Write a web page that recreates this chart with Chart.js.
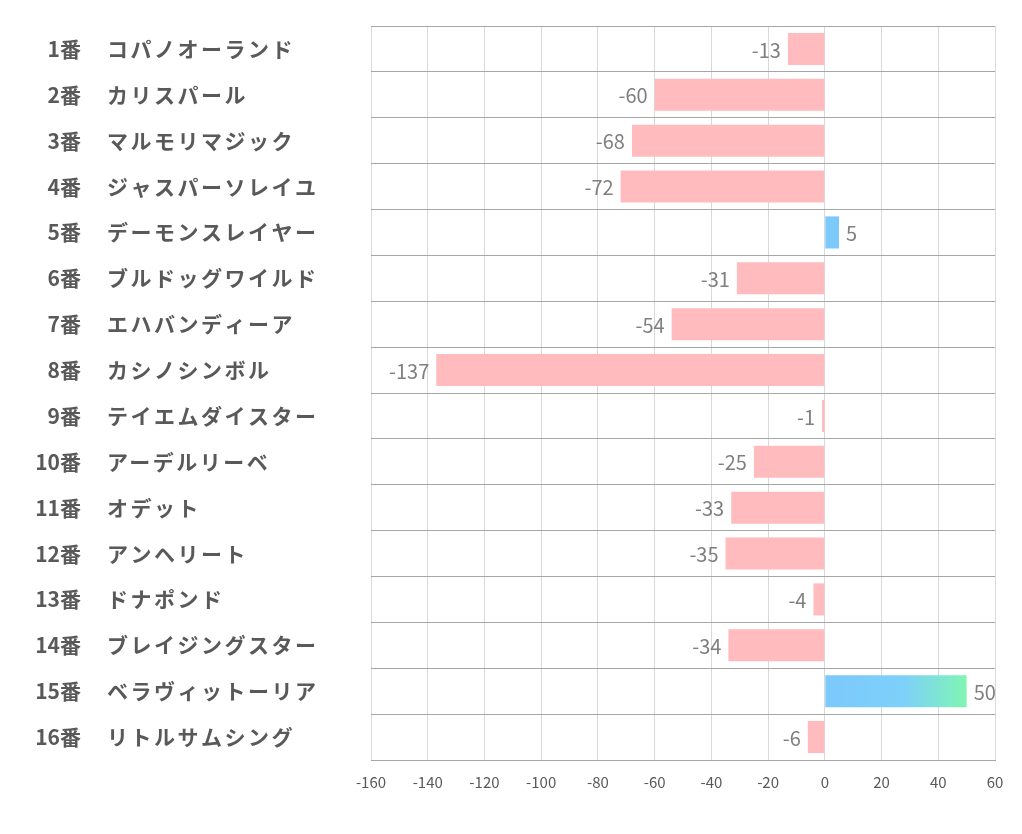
<!DOCTYPE html>
<html>
<head>
<meta charset="utf-8">
<script src="https://cdn.jsdelivr.net/npm/chart.js@4/dist/chart.umd.min.js"></script>
<style>
  html, body { margin: 0; padding: 0; background: #fff; }
  #wrap { width: 1022px; height: 834px; }
</style>
</head>
<body>
<div id="wrap"><canvas id="chart" width="1022" height="834"></canvas></div>
<script>
// Datos
const numeros = ['1番', '2番', '3番', '4番', '5番', '6番', '7番', '8番',
                 '9番', '10番', '11番', '12番', '13番', '14番', '15番', '16番'];
const nombres = ['コパノオーランド', 'カリスパール', 'マルモリマジック', 'ジャスパーソレイユ',
                 'デーモンスレイヤー', 'ブルドッグワイルド', 'エハバンディーア', 'カシノシンボル',
                 'テイエムダイスター', 'アーデルリーベ', 'オデット', 'アンヘリート',
                 'ドナポンド', 'ブレイジングスター', 'ベラヴィットーリア', 'リトルサムシング'];
const valores = [-13, -60, -68, -72, 5, -31, -54, -137, -1, -25, -33, -35, -4, -34, 50, -6];
const xMin = -160;
const xMax = 60;
const xPaso = 20;

const FUENTE = '"Noto Sans CJK JP", "Noto Sans", sans-serif';

// Color de cada barra (el 15番 lleva degradado)
function colorBarra(ctx) {
    const v = valores[ctx.dataIndex];
    if (v < 0) return '#ffbbbe';
    if (v >= 50) {
        const chart = ctx.chart;
        const x = chart.scales.x;
        if (!x) return '#7cc9fb';
        const g = chart.ctx.createLinearGradient(x.getPixelForValue(0), 0, x.getPixelForValue(v), 0);
        g.addColorStop(0, '#7cc9fb');
        g.addColorStop(0.55, '#7dd0fa');
        g.addColorStop(1, '#80f5b4');
        return g;
    }
    return '#7cc9fb';
}

// Etiquetas del eje izquierdo: número y nombre en dos columnas
const etiquetasPlugin = {
    id: 'etiquetas',
    afterDraw(chart) {
        const c = chart.ctx;
        const y = chart.scales.y;
        c.save();
        c.fillStyle = '#595959';
        c.font = 'bold 21px ' + FUENTE;
        c.textBaseline = 'middle';
        numeros.forEach((n, i) => {
            const py = y.getPixelForValue(i);
            c.letterSpacing = '0px';
            c.textAlign = 'right';
            c.fillText(n, 81, py);
            c.letterSpacing = '2.5px';
            c.textAlign = 'left';
            c.fillText(nombres[i], 107, py);
        });
        c.restore();
    }
};

// Valores junto a cada barra
const valoresPlugin = {
    id: 'valores',
    afterDatasetsDraw(chart) {
        const c = chart.ctx;
        const meta = chart.getDatasetMeta(0);
        c.save();
        c.fillStyle = '#7f7f7f';
        c.font = '20px ' + FUENTE;
        c.textBaseline = 'middle';
        meta.data.forEach((bar, i) => {
            const v = valores[i];
            if (v < 0) {
                c.textAlign = 'right';
                c.fillText(String(v), bar.x - 7, bar.y + 1);
            } else {
                c.textAlign = 'left';
                c.fillText(String(v), bar.x + 7, bar.y + 1);
            }
        });
        c.restore();
    }
};

new Chart(document.getElementById('chart'), {
    type: 'bar',
    data: {
        labels: numeros,
        datasets: [{
            data: valores,
            backgroundColor: colorBarra,
            borderWidth: 0,
            categoryPercentage: 1,
            barPercentage: 0.7
        }]
    },
    options: {
        indexAxis: 'y',
        responsive: false,
        animation: false,
        layout: { padding: { left: 371, right: 27, top: 26, bottom: 30 } },
        plugins: {
            legend: { display: false },
            tooltip: { enabled: false }
        },
        scales: {
            x: {
                min: xMin,
                max: xMax,
                ticks: {
                    stepSize: xPaso,
                    color: '#595959',
                    font: { family: FUENTE, size: 15 },
                    padding: 13
                },
                grid: { color: '#d9d9d9', drawTicks: false },
                border: { color: '#a6a6a6', width: 1 }
            },
            y: {
                ticks: { display: false },
                grid: { color: '#a6a6a6', drawTicks: false, offset: true },
                border: { display: false }
            }
        }
    },
    plugins: [etiquetasPlugin, valoresPlugin]
});
</script>
</body>
</html>
